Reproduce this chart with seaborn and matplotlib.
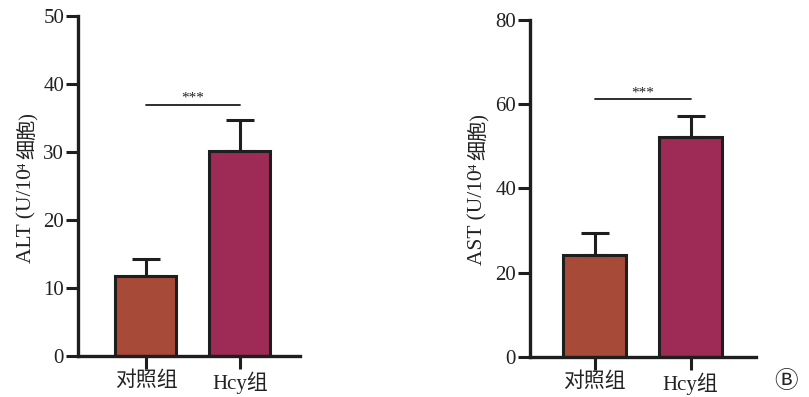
import matplotlib
matplotlib.use("Agg")
import matplotlib.pyplot as plt
import seaborn as sns

# values
groups = ["对照组", "Hcy组"]
alt_mean = [11.7, 30.1]
alt_err = [2.5, 4.6]
ast_mean = [24.3, 52.3]
ast_err = [5.1, 4.8]
bar_colors = ["#a84a38", "#9e2b55"]

sns.set_theme(style="ticks")
plt.rcParams["font.family"] = ["Liberation Serif", "Noto Sans CJK SC", "DejaVu Sans"]

fig = plt.figure(figsize=(8.09, 3.97), dpi=100)
ax1 = fig.add_axes([0.0964, 0.1033, 0.274, 0.856])
ax2 = fig.add_axes([0.655, 0.1008, 0.279, 0.849])

ink = "#1e1e1e"
txt = "#222222"


def ylabel_with_sup(x_px, y_px, name):
    # y label built from pieces (pixel positions) so the superscript 4 stays small
    renderer = fig.canvas.get_renderer()
    H = fig.bbox.height
    t1 = fig.text(x_px, H - y_px, name + " (U/10", rotation=90, ha="center",
                  va="bottom", fontsize=15.5, color=txt, transform=None)
    bb1 = t1.get_window_extent(renderer)
    t2 = fig.text(bb1.x0 - 1, bb1.y1 - 1, "4", rotation=90, ha="left", va="bottom",
                  fontsize=9, color=txt, transform=None)
    bb2 = t2.get_window_extent(renderer)
    fig.text(x_px, bb2.y1 + 4, "细胞)", rotation=90, ha="center", va="bottom",
             fontsize=14.5, color=txt, transform=None)


def draw_panel(ax, means, errs, ymax, step, sig_y, xlim, width):
    sns.barplot(x=groups, y=means, hue=groups, palette=bar_colors, legend=False,
                width=width, edgecolor=ink, linewidth=2.2, saturation=1, ax=ax)
    ax.errorbar(range(len(groups)), means, yerr=[[0] * len(errs), errs],
                fmt="none", ecolor=ink, elinewidth=2.2, capsize=10, capthick=2.2,
                zorder=1)
    ax.set_ylim(0, ymax)
    ax.set_yticks(range(0, ymax + 1, step))
    ax.set_xlim(*xlim)
    ax.set_ylabel("")
    ax.set_xlabel("")
    sns.despine(ax=ax)
    for s in ["left", "bottom"]:
        ax.spines[s].set_linewidth(2.4)
        ax.spines[s].set_color(ink)
    ax.tick_params(axis="both", width=2.2, length=9, color=ink, direction="out",
                   labelcolor=txt)
    ax.tick_params(axis="y", labelsize=15, pad=1)
    ax.tick_params(axis="x", labelsize=15, pad=2)
    ax.plot([0, 1], [sig_y, sig_y], color=ink, linewidth=1.3, clip_on=False)
    ax.text(0.5, sig_y, "***", ha="center", va="bottom", fontsize=11, color=txt)


draw_panel(ax1, alt_mean, alt_err, 50, 10, 37.0, (-0.723, 1.638), 0.65)
draw_panel(ax2, ast_mean, ast_err, 80, 20, 61.2, (-0.677, 1.677), 0.66)

ylabel_with_sup(27, 263, "ALT")
ylabel_with_sup(478, 265, "AST")

fig.text(0.972, 0.038, "Ⓑ", fontsize=17, ha="center", va="center", color=txt)

fig.savefig("out.png", dpi=100)
